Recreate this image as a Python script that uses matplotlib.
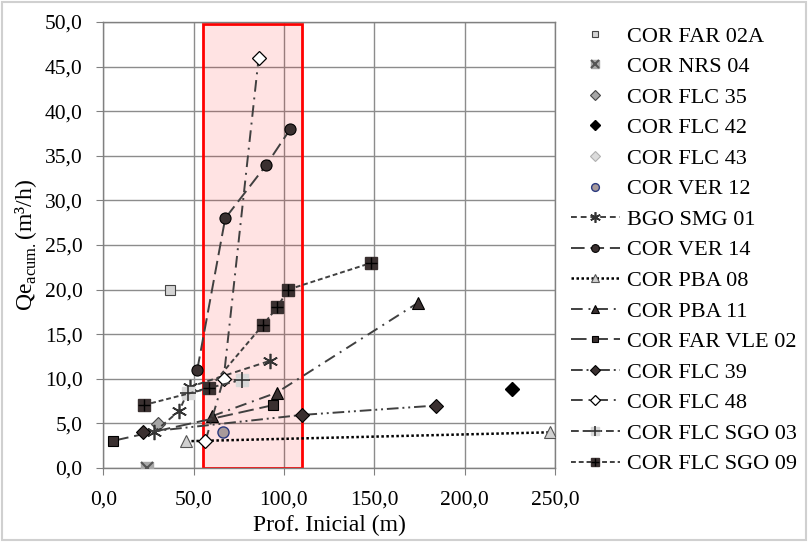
import matplotlib
matplotlib.use("Agg")
import matplotlib.pyplot as plt
import matplotlib.ticker as mticker
from matplotlib.patches import Rectangle
from matplotlib.legend_handler import HandlerTuple

plt.rcParams["font.family"] = ["Liberation Serif", "DejaVu Serif"]
plt.rcParams["mathtext.fontset"] = "custom"
plt.rcParams["mathtext.rm"] = "Liberation Serif"

# Data (Prof. Inicial in m, Qe acum. in m3/h)
far02a_x, far02a_y = [37], [20.0]
nrs04_x, nrs04_y = [24], [0.0]
flc35_x, flc35_y = [30], [4.9]
flc42_x, flc42_y = [226], [8.9]
flc43_x, flc43_y = [], []
ver12_x, ver12_y = [66], [4.0]
bgo01_x, bgo01_y = [28, 42, 48, 92], [4.0, 6.4, 9.1, 12.0]
ver14_x, ver14_y = [52, 67.5, 90.3, 103.5], [11.0, 28.0, 34.0, 38.0]
pba08_x, pba08_y = [46, 247], [3.0, 4.0]
pba11_x, pba11_y = [60, 96, 174], [5.8, 8.45, 18.5]
farvle02_x, farvle02_y = [5.5, 94], [3.05, 7.05]
flc39_x, flc39_y = [22, 110, 184], [4.0, 5.95, 7.0]
flc48_x, flc48_y = [56.5, 66.6, 86], [3.0, 10.0, 46.0]
sgo03_x, sgo03_y = [47, 77], [8.4, 9.9]
sgo09_x, sgo09_y = [22.3, 58.7, 88.2, 96.2, 102.3, 148.4], [7.05, 8.95, 16.0, 18.0, 20.0, 23.0]

# highlighted interval
zone_x = [55, 110]
zone_ytop = 49.8

DARK = "#3a3030"
LINE = "#404040"

fig = plt.figure(figsize=(8.08, 5.42), dpi=100)
ax = fig.add_axes([103.3 / 808, 74 / 542, (555 - 103.3) / 808, (468 - 22) / 542])

ax.add_patch(Rectangle((zone_x[0], 0), zone_x[1] - zone_x[0], zone_ytop,
                       facecolor=(1, 0, 0, 0.11), edgecolor="red", lw=2, zorder=1.5))

h = []
lw = 1.4

l, = ax.plot(far02a_x, far02a_y, ls="none", marker="s", ms=7, mfc="#d4d4d4", mec="#444444", mew=0.8, zorder=3)
h.append((l, "COR FAR 02A"))
l1, = ax.plot(nrs04_x, nrs04_y, ls="none", marker="s", ms=9, mfc="#a8a8a8", mec="#a8a8a8", zorder=3)
l2, = ax.plot(nrs04_x, nrs04_y, ls="none", marker="x", ms=9, mec="#555555", mew=1.5, zorder=3)
h.append(((l1, l2), "COR NRS 04"))
l, = ax.plot(flc35_x, flc35_y, ls="none", marker="D", ms=7, mfc="#a6a6a6", mec="#444444", mew=0.8, zorder=3)
h.append((l, "COR FLC 35"))
l, = ax.plot(flc42_x, flc42_y, ls="none", marker="D", ms=7, mfc="black", mec="black", zorder=3)
h.append((l, "COR FLC 42"))
l, = ax.plot(flc43_x, flc43_y, ls="none", marker="D", ms=7, mfc="#dcdcdc", mec="#b0b0b0", mew=0.8, zorder=3)
h.append((l, "COR FLC 43"))
l, = ax.plot(ver12_x, ver12_y, ls="none", marker="o", ms=8, mfc="#a89a9a", mec="#2b3a80", mew=1.0, zorder=3)
h.append((l, "COR VER 12"))
l, = ax.plot(bgo01_x, bgo01_y, color=LINE, lw=lw, dashes=(3, 2), marker=(6, 2, 0), ms=11,
             mec="#333333", mew=1.2, zorder=3)
h.append((l, "BGO SMG 01"))
l, = ax.plot(ver14_x, ver14_y, color=LINE, lw=lw, dashes=(7, 3), marker="o", ms=8,
             mfc=DARK, mec="black", mew=0.8, zorder=3)
h.append((l, "COR VER 14"))
l, = ax.plot(pba08_x, pba08_y, color="black", lw=1.8, dashes=(1, 1), marker="^", ms=8,
             mfc="#d0d0d0", mec="#555555", mew=0.8, zorder=3)
h.append((l, "COR PBA 08"))
l, = ax.plot(pba11_x, pba11_y, color=LINE, lw=lw, dashes=(6, 3, 1, 3), marker="^", ms=8,
             mfc=DARK, mec="black", mew=0.8, zorder=3)
h.append((l, "COR PBA 11"))
l, = ax.plot(farvle02_x, farvle02_y, color=LINE, lw=lw, dashes=(8, 3), marker="s", ms=6.5,
             mfc=DARK, mec="black", mew=0.8, zorder=3)
h.append((l, "COR FAR VLE 02"))
l, = ax.plot(flc39_x, flc39_y, color=LINE, lw=lw, dashes=(6, 2, 1, 2, 1, 2), marker="D", ms=7,
             mfc=DARK, mec="black", mew=0.8, zorder=3)
h.append((l, "COR FLC 39"))
l, = ax.plot(flc48_x, flc48_y, color=LINE, lw=lw, dashes=(6, 3, 1, 3), marker="D", ms=7,
             mfc="white", mec="black", mew=0.9, zorder=3)
h.append((l, "COR FLC 48"))
l1, = ax.plot(sgo03_x, sgo03_y, color=LINE, lw=lw, dashes=(4, 2), marker="s", ms=8,
              mfc="#d8d8d8", mec="#d8d8d8", zorder=3)
l2, = ax.plot(sgo03_x, sgo03_y, ls="none", marker="+", ms=11, mec="#333333", mew=1.2, zorder=3)
h.append(((l1, l2), "COR FLC SGO 03"))
l1, = ax.plot(sgo09_x, sgo09_y, color=LINE, lw=lw, dashes=(2.5, 1.5), marker="s", ms=9,
              mfc=DARK, mec=DARK, zorder=3)
l2, = ax.plot(sgo09_x, sgo09_y, ls="none", marker="+", ms=9, mec="black", mew=1.0, zorder=3)
h.append(((l1, l2), "COR FLC SGO 09"))

ax.set_xlim(0, 250)
ax.set_ylim(0, 50)
ax.xaxis.set_major_locator(mticker.MultipleLocator(50))
ax.yaxis.set_major_locator(mticker.MultipleLocator(5))
fmt = mticker.FuncFormatter(lambda v, _: f"{v:.1f}".replace(".", ","))
ax.xaxis.set_major_formatter(fmt)
ax.yaxis.set_major_formatter(fmt)
ax.grid(True, color="#8c8c8c", lw=1.0, zorder=0)
ax.set_axisbelow(True)
for s in ax.spines.values():
    s.set_color("#808080")
    s.set_linewidth(1.0)
ax.tick_params(length=5, color="#808080", labelsize=15.5)
ax.tick_params(axis="y", pad=10)
ax.tick_params(axis="x", pad=11)

ax.set_xlabel("Prof. Inicial (m)", fontsize=17, labelpad=4)
ax.set_ylabel("Qe$_{\\mathrm{acum.}}$(m³/h)", fontsize=17, labelpad=4)

fig.legend([x[0] for x in h], [x[1] for x in h], loc="upper left",
           bbox_to_anchor=(571 / 808, 1 - 26 / 542), frameon=False, fontsize=16,
           handlelength=2.2, handletextpad=0.3, labelspacing=0.45, borderpad=0,
           borderaxespad=0, markerscale=0.7,
           handler_map={tuple: HandlerTuple(ndivide=1)})

fig.patches.append(Rectangle((0.002, 0.003), 0.996, 0.994, transform=fig.transFigure,
                             fill=False, edgecolor="#d0d0d0", lw=1.5))

fig.savefig("out.png", dpi=100)
